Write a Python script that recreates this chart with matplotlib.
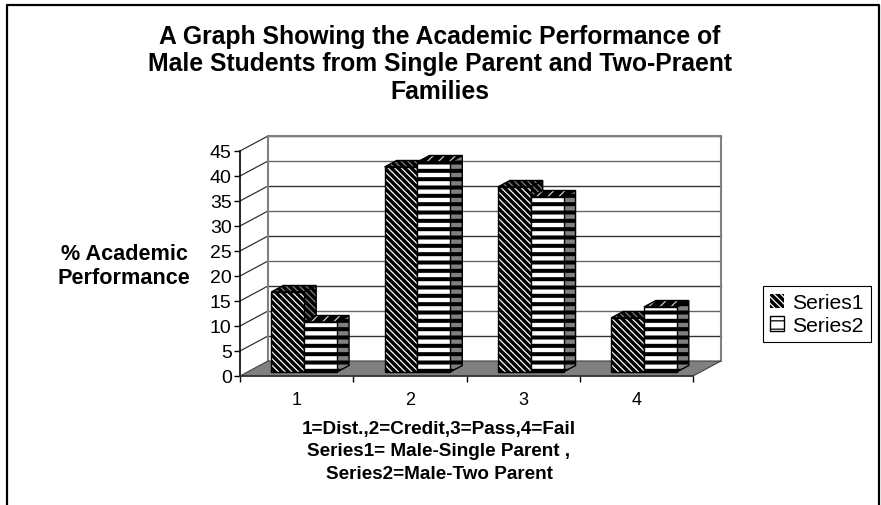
import matplotlib

matplotlib.use("Agg")

import matplotlib.pyplot as plt
from matplotlib.lines import Line2D
from matplotlib.patches import Patch, Polygon

plt.rcParams["font.family"] = ["Liberation Sans", "DejaVu Sans"]

CATEGORIES = [1, 2, 3, 4]
SERIES1 = [16, 41, 37, 10.8]
SERIES2 = [10, 42, 35, 13]
SERIES_NAMES = ["Series1", "Series2"]
Y_TICKS = list(range(0, 50, 5))

TITLE = "A Graph Showing the Academic Performance of\nMale Students from Single Parent and Two-Praent\nFamilies"
Y_LABEL = "% Academic\nPerformance"
X_LABEL = "1=Dist.,2=Credit,3=Pass,4=Fail\nSeries1= Male-Single Parent ,\nSeries2=Male-Two Parent"

W, H = 881, 506
DEPTH_X = 0.247
DEPTH_Y = 3.0
BAR_W = 0.29
BAR_FRONT = 0.27
BAR_BACK = 0.70
GREY = "#808080"
DIAG = "\\" * 5


def shifted(x, y, depth):
    return (x + DEPTH_X * depth, y + DEPTH_Y * depth)


def hatched(ax, points, face, hatch_color, hatch, zorder):
    # the patch picks up the hatch width when it is created
    plt.rcParams["hatch.linewidth"] = 2.9 if "-" in hatch else 0.9
    ax.add_patch(
        Polygon(points, closed=True, facecolor=face, edgecolor=hatch_color, hatch=hatch,
                linewidth=0, clip_on=False, zorder=zorder)
    )
    ax.add_patch(
        Polygon(points, closed=True, facecolor="none", edgecolor="black",
                linewidth=1.0, clip_on=False, zorder=zorder + 0.01)
    )


def draw_bar(ax, left, value, styles, zorder):
    right = left + BAR_W
    front = [(left, 0), (right, 0), (right, value), (left, value)]
    side = [(right, 0), (right, value)]
    side = [shifted(*p, BAR_FRONT) for p in side] + [shifted(*p, BAR_BACK) for p in reversed(side)]
    top = [(left, value), (right, value)]
    top = [shifted(*p, BAR_FRONT) for p in top] + [shifted(*p, BAR_BACK) for p in reversed(top)]
    front = [shifted(*p, BAR_FRONT) for p in front]
    hatched(ax, side, *styles["side"], zorder)
    hatched(ax, top, *styles["top"], zorder + 0.1)
    hatched(ax, front, *styles["front"], zorder + 0.2)


STYLE1 = {
    "front": ("black", "white", DIAG),
    "side": ("black", GREY, DIAG),
    "top": ("black", GREY, DIAG),
}
STYLE2 = {
    "front": ("white", "black", "--"),
    "side": (GREY, "black", "--"),
    "top": ("black", "#cccccc", "///"),
}


def main() -> None:
    fig = plt.figure(figsize=(W / 100, H / 100), dpi=100)
    ax = fig.add_axes([240 / W, (H - 377) / H, 453 / W, 225 / H])
    ax.set_xlim(0.5, 4.5)
    ax.set_ylim(0, 45)
    ax.patch.set_alpha(0)

    x0, x1 = ax.get_xlim()
    floor = [(x0, 0), (x1, 0), shifted(x1, 0, 1), shifted(x0, 0, 1)]
    ax.add_patch(Polygon(floor, closed=True, facecolor=GREY, edgecolor="#404040",
                         linewidth=0.8, clip_on=False, zorder=1))

    for i, tick in enumerate(Y_TICKS):
        color = "#333333" if i % 2 else "#666666"
        back_l = shifted(x0, tick, 1)
        back_r = shifted(x1, tick, 1)
        if tick > 0:
            ax.plot([back_l[0], back_r[0]], [back_l[1], back_r[1]], color=color, lw=1.0,
                    clip_on=False, zorder=0.5)
            ax.plot([x0, back_l[0]], [tick, back_l[1]], color="#333333", lw=0.9,
                    clip_on=False, zorder=0.5)
    wall_top = shifted(x0, Y_TICKS[-1], 1)
    wall_right = shifted(x1, Y_TICKS[-1], 1)
    wall_base = shifted(x0, 0, 1)
    wall_base_r = shifted(x1, 0, 1)
    ax.plot([wall_base[0], wall_top[0], wall_right[0], wall_base_r[0]],
            [wall_base[1], wall_top[1], wall_right[1], wall_base_r[1]],
            color=GREY, lw=1.5, clip_on=False, zorder=0.6)

    for cat, v1, v2 in zip(CATEGORIES, SERIES1, SERIES2):
        draw_bar(ax, cat - BAR_W, v1, STYLE1, 2 + cat)
        draw_bar(ax, cat, v2, STYLE2, 2.5 + cat)

    for name in ["top", "right"]:
        ax.spines[name].set_visible(False)
    ax.spines["left"].set_linewidth(1.2)
    ax.spines["bottom"].set_linewidth(1.2)
    ax.spines["bottom"].set_color("#333333")
    ax.set_yticks(Y_TICKS)
    ax.set_xticks(CATEGORIES)
    ax.set_xticks([c - 0.5 for c in CATEGORIES] + [CATEGORIES[-1] + 0.5], minor=True)
    ax.tick_params(axis="x", which="major", length=0, labelsize=13, pad=11)
    ax.tick_params(axis="x", which="minor", length=4, width=1, labelbottom=False)
    ax.tick_params(axis="y", length=4, width=1, labelsize=14, pad=2)

    fig.text(440 / W, 1 - 64.5 / H, TITLE, ha="center", va="center", fontsize=17.8,
             fontweight="bold", linespacing=1.19)
    fig.text(124 / W, 1 - 266.5 / H, Y_LABEL, ha="center", va="center", fontsize=15.6,
             fontweight="bold", linespacing=1.2)
    fig.text(439 / W, 1 - 452 / H, X_LABEL, ha="center", va="center", fontsize=13.6,
             fontweight="bold", linespacing=1.43)

    plt.rcParams["hatch.linewidth"] = 0.9
    handles = [
        Patch(facecolor="black", edgecolor="white", hatch=DIAG, linewidth=0),
        Patch(facecolor="white", edgecolor="black", hatch="--", linewidth=1),
    ]
    leg = fig.legend(handles, SERIES_NAMES, loc="center left",
                     bbox_to_anchor=(763 / W, 1 - 315 / H), fontsize=15.2, frameon=True,
                     fancybox=False, edgecolor="black", framealpha=1, borderpad=0.35,
                     handlelength=0.65, handleheight=0.65, handletextpad=0.4, labelspacing=0.18,
                     borderaxespad=0)
    leg.get_frame().set_linewidth(0.8)

    for xs, ys in [([7, 7, 879, 879], [H, 6, 6, H])]:
        fig.add_artist(Line2D([x / W for x in xs], [1 - y / H for y in ys], color="black", lw=1.6))

    fig.savefig("out.png", dpi=100)
    plt.close(fig)


if __name__ == "__main__":
    main()
